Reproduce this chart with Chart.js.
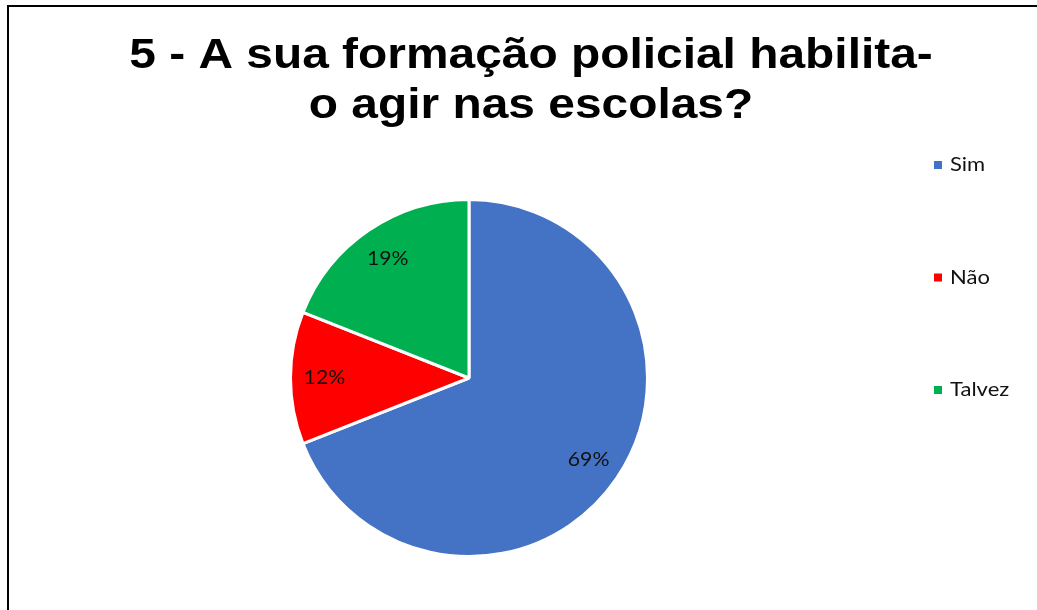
<!DOCTYPE html>
<html>
<head>
<meta charset="utf-8">
<script src="https://cdn.jsdelivr.net/npm/chart.js@4/dist/chart.umd.min.js"></script>
<style>
  html, body { margin: 0; padding: 0; background: #fff; }
  canvas { display: block; }
</style>
</head>
<body>
<canvas id="chart" width="1037" height="610"></canvas>
<script>
const titleLines = ["5 - A sua formação policial habilita-", "o agir nas escolas?"];
const categories = ["Sim", "Não", "Talvez"];
const percentages = [69, 12, 19];
const sliceColors = ["#4472C4", "#FF0000", "#00B050"];

// text in the original is a bit wider than the fonts we have
function stretchedText(ctx, text, x, y, sx) {
  ctx.save();
  ctx.translate(x, y);
  ctx.scale(sx, 1);
  ctx.fillText(text, 0, 0);
  ctx.restore();
}

// frame around the whole picture + title
const framePlugin = {
  id: "frame",
  beforeDraw(chart) {
    const ctx = chart.ctx;
    ctx.save();
    ctx.fillStyle = "#ffffff";
    ctx.fillRect(0, 0, chart.width, chart.height);
    ctx.strokeStyle = "#000000";
    ctx.lineWidth = 2;
    ctx.strokeRect(8, 6, chart.width + 20, chart.height + 20);
    ctx.restore();
  },
  afterDraw(chart) {
    const ctx = chart.ctx;
    ctx.save();
    ctx.fillStyle = "#000000";
    ctx.font = "bold 42px 'Liberation Sans', Arial, sans-serif";
    ctx.textAlign = "center";
    ctx.textBaseline = "alphabetic";
    titleLines.forEach((line, i) => {
      stretchedText(ctx, line, 531, 68 + i * 50, 1.14);
    });
    ctx.restore();
  },
};

// percentage labels inside the slices
const sliceLabels = {
  id: "sliceLabels",
  afterDatasetsDraw(chart) {
    const ctx = chart.ctx;
    const meta = chart.getDatasetMeta(0);
    ctx.save();
    ctx.font = "20px Lato, 'Open Sans', sans-serif";
    ctx.fillStyle = "#111111";
    ctx.textAlign = "center";
    ctx.textBaseline = "middle";
    meta.data.forEach((arc, i) => {
      const mid = (arc.startAngle + arc.endAngle) / 2;
      const r = arc.outerRadius * 0.81;
      const x = arc.x + Math.cos(mid) * r;
      const y = arc.y + Math.sin(mid) * r;
      stretchedText(ctx, chart.data.datasets[0].data[i] + "%", x, y, 1.06);
    });
    ctx.restore();
  },
};

// legend on the right, widely spaced like the original
const sideLegend = {
  id: "sideLegend",
  afterDraw(chart) {
    const ctx = chart.ctx;
    const ds = chart.data.datasets[0];
    ctx.save();
    ctx.font = "20px Lato, 'Open Sans', sans-serif";
    ctx.textBaseline = "middle";
    ctx.textAlign = "left";
    chart.data.labels.forEach((label, i) => {
      const y = 165 + i * 112.5;
      ctx.fillStyle = ds.backgroundColor[i];
      ctx.fillRect(934, y - 4, 8, 8);
      ctx.fillStyle = "#111111";
      stretchedText(ctx, label, 950, y, 1.1);
    });
    ctx.restore();
  },
};

new Chart(document.getElementById("chart"), {
  type: "pie",
  data: {
    labels: categories,
    datasets: [
      {
        data: percentages,
        backgroundColor: sliceColors,
        borderColor: "#ffffff",
        borderWidth: 3,
      },
    ],
  },
  options: {
    responsive: false,
    animation: false,
    layout: {
      padding: { left: 289, right: 388, top: 198, bottom: 52 },
    },
    plugins: {
      legend: { display: false },
      title: { display: false },
      tooltip: { enabled: false },
    },
  },
  plugins: [framePlugin, sliceLabels, sideLegend],
});
</script>
</body>
</html>
